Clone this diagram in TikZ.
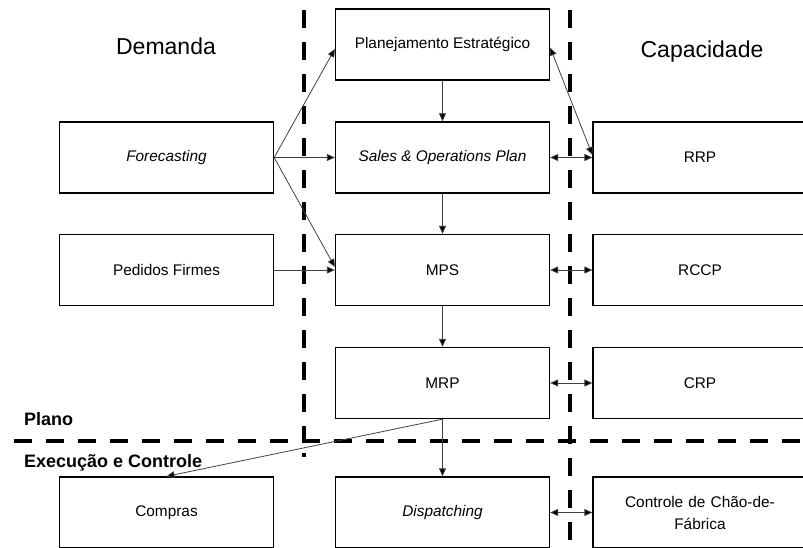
\documentclass[tikz,border=0pt]{standalone}
\usepackage{fontspec}
\setmainfont{Liberation Sans}
\usetikzlibrary{arrows.meta}
\begin{document}
\begin{tikzpicture}[x=1pt,y=-1pt,
  box/.style={draw=black,line width=1.3pt,minimum width=214pt,minimum height=71pt,
    inner sep=2pt,font=\fontsize{15.4}{18.5}\selectfont,align=center},
  link/.style={draw=black!75,line width=0.8pt,-{Triangle[length=8pt,width=7pt,fill=black]}},
  both/.style={link,{Triangle[length=8pt,width=7pt,fill=black]}-{Triangle[length=8pt,width=7pt,fill=black]}},
  border/.style={line width=4pt,dash pattern=on 18pt off 14pt},
  title/.style={font=\fontsize{23}{27}\selectfont},
  zone/.style={font=\bfseries\fontsize{18}{21}\selectfont,anchor=base west,inner sep=0pt}]
\useasboundingbox (0,0) rectangle (803,548);
\clip (0,0) rectangle (803,548);

% zone borders
\draw[border] (14,441) -- (803,441);
\draw[border] (304,10) -- (304,441);
\draw[line width=4pt] (304,453) -- (304,457);
\draw[border] (570,10) -- (570,548);

% headings
\node[title] (tdem) at (166,46) {Demanda};
\node[title] (tcap) at (702,52) {Capacidade};
\node[zone] (plano) at (24,425) {Plano};
\node[zone] (exec) at (24,467) {Execução e Controle};

% middle column
\node[box,fill=white] (pe)  at (442.5,44.5)  {Planejamento Estratégico};
\node[box,fill=white] (sop) at (442.5,157.5) {\itshape Sales \& Operations Plan};
\node[box,fill=white] (mps) at (442.5,270)   {MPS};
\node[box,fill=white] (mrp) at (442.5,383)   {MRP};
\node[box,fill=white] (dis) at (442.5,512.5) {\itshape Dispatching};

% demand column
\node[box] (fc)  at (166.5,157.5) {\itshape Forecasting};
\node[box] (pf)  at (166.5,270)   {Pedidos Firmes};
\node[box] (cmp) at (166.5,512.5) {Compras};

% capacity column
\node[box] (rrp)  at (700,157.5) {RRP};
\node[box] (rccp) at (700,270)   {RCCP};
\node[box] (crp)  at (700,383)   {CRP};
\node[box,text width=190pt,font=\fontsize{15.4}{22}\selectfont] (ccf) at (700,512.5)
  {Controle de Chão-de-\\Fábrica};

% planning chain
\draw[link] (pe)  -- (sop);
\draw[link] (sop) -- (mps);
\draw[link] (mps) -- (mrp);
\draw[link] (mrp) -- (dis);
\draw[link] (mrp.south) -- (cmp.north);

% demand inputs
\draw[link] (fc.east) -- ([yshift=-4.5pt]pe.west);
\draw[link] (fc.east) -- (sop.west);
\draw[link] (fc.east) -- ([yshift=3pt]mps.west);
\draw[link] (pf.east) -- (mps.west);

% capacity checks
\draw[both] ([yshift=-3pt]pe.east) -- ([yshift=2.5pt]rrp.west);
\draw[both] (sop.east) -- (rrp.west);
\draw[both] (mps.east) -- (rccp.west);
\draw[both] (mrp.east) -- (crp.west);
\draw[both] (dis.east) -- (ccf.west);
\end{tikzpicture}
\end{document}
